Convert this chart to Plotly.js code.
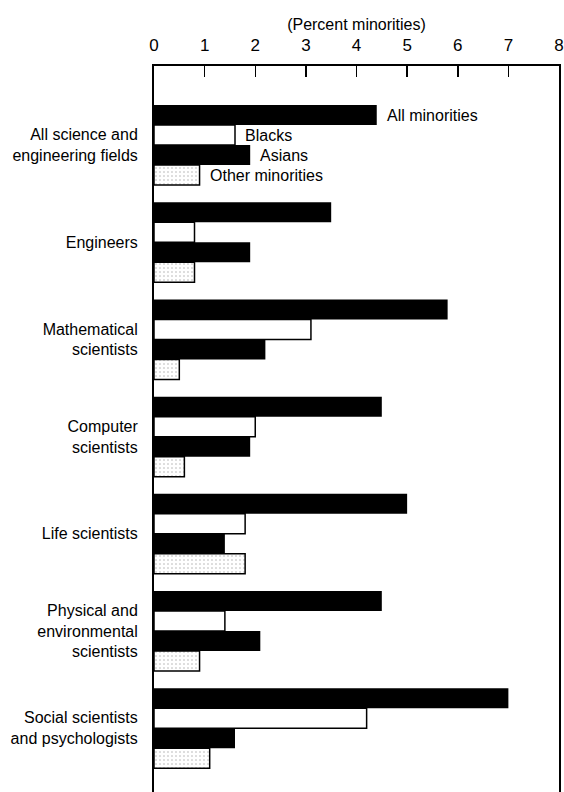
<!DOCTYPE html>
<html>
<head>
<meta charset="utf-8">
<script src="https://cdn.plot.ly/plotly-3.0.1.min.js"></script>
<style>
html, body { margin: 0; padding: 0; background: #fff; }
#chart { width: 564px; height: 792px; }
</style>
</head>
<body>
<div id="chart"></div>
<script>
const categories = [
  'All science and<br>engineering fields',
  'Engineers',
  'Mathematical<br>scientists',
  'Computer<br>scientists',
  'Life scientists',
  'Physical and<br>environmental<br>scientists',
  'Social scientists<br>and psychologists'
];
const seriesNames = ['All minorities', 'Blacks', 'Asians', 'Other minorities'];
const allMinorities = [4.4, 3.5, 5.8, 4.5, 5.0, 4.5, 7.0];
const blacks        = [1.6, 0.8, 3.1, 2.0, 1.8, 1.4, 4.2];
const asians        = [1.9, 1.9, 2.2, 1.9, 1.4, 2.1, 1.6];
const otherMin      = [0.9, 0.8, 0.5, 0.6, 1.8, 0.9, 1.1];
const xTicks = [0, 1, 2, 3, 4, 5, 6, 7, 8];

const FONT = '"Liberation Sans", Arial, sans-serif';
const bargap = 0.177;

const seriesValues = [allMinorities, blacks, asians, otherMin];
const styles = [
  { color: '#000', line: { color: '#000', width: 0 } },
  { color: '#fff', line: { color: '#000', width: 1.5 } },
  { color: '#000', line: { color: '#000', width: 0 } },
  { color: '#fff', line: { color: '#000', width: 1.5 },
    pattern: { shape: '.', fgcolor: '#b0b0b0', bgcolor: '#fff', size: 4, solidity: 0.12 } }
];

const traces = seriesValues.map((vals, i) => ({
  type: 'bar',
  orientation: 'h',
  name: seriesNames[i],
  x: vals,
  y: categories,
  marker: styles[i],
  hoverinfo: 'x+y'
}));

const groupW = 1 - bargap;
const barW = groupW / seriesValues.length;
const annotations = seriesValues.map((vals, i) => ({
  x: vals[0],
  y: -groupW / 2 + barW * (i + 0.5),
  xref: 'x', yref: 'y',
  text: seriesNames[i],
  showarrow: false,
  xanchor: 'left',
  yanchor: 'middle',
  xshift: 8,
  font: { family: FONT, size: 16, color: '#000' }
}));

const layout = {
  width: 564,
  height: 792,
  margin: { l: 154, r: 5, t: 66, b: 0, pad: 0 },
  paper_bgcolor: '#fff',
  plot_bgcolor: '#fff',
  showlegend: false,
  barmode: 'group',
  bargap: bargap,
  bargroupgap: 0,
  font: { family: FONT, size: 16, color: '#000' },
  xaxis: {
    side: 'top',
    range: [0, 8],
    tickvals: xTicks,
    ticktext: xTicks.map(String),
    ticks: 'inside',
    ticklen: 11,
    tickwidth: 1.5,
    tickcolor: '#000',
    showline: true,
    linecolor: '#000',
    linewidth: 2,
    showgrid: false,
    zeroline: false,
    ticklabeloverflow: 'allow',
    tickfont: { family: FONT, size: 17, color: '#000' },
    ticklabelstandoff: 6,
    title: { text: '(Percent minorities)', font: { family: FONT, size: 16, color: '#000' }, standoff: 2 },
    fixedrange: true
  },
  yaxis: {
    type: 'category',
    range: [6.656, -0.813],
    showline: true,
    mirror: true,
    linecolor: '#000',
    linewidth: 2,
    ticks: '',
    showgrid: false,
    zeroline: false,
    tickfont: { family: FONT, size: 16, color: '#000' },
    ticklabelstandoff: 11,
    fixedrange: true
  },
  annotations: annotations
};

Plotly.newPlot('chart', traces, layout, { staticPlot: true, displayModeBar: false });
</script>
</body>
</html>
